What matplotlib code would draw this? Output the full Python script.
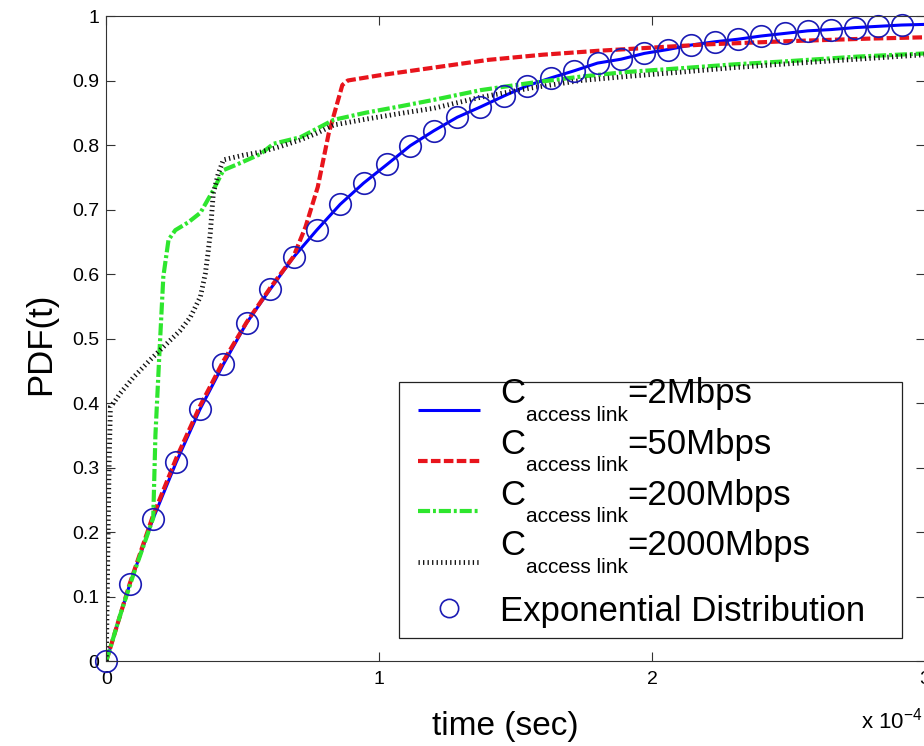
import numpy as np
import matplotlib
matplotlib.use("Agg")
import matplotlib.pyplot as plt
from matplotlib import font_manager
from matplotlib.font_manager import FontProperties
from matplotlib.legend_handler import HandlerLine2D
from matplotlib.ticker import FuncFormatter, FixedLocator


def pick_family(names):
    for n in names:
        try:
            font_manager.findfont(FontProperties(family=n), fallback_to_default=False)
            return n
        except ValueError:
            continue
    return "DejaVu Sans"


NARROW = pick_family(["Liberation Sans Narrow", "Arial Narrow", "Liberation Sans"])
REGULAR = pick_family(["Liberation Sans", "Arial", "DejaVu Sans"])

plt.rcParams["mathtext.fontset"] = "custom"
plt.rcParams["mathtext.rm"] = REGULAR
plt.rcParams["mathtext.it"] = REGULAR

# ---------------- data (time axis in units of 1e-4 s) ----------------
# C_access link = 2 Mbps
t_2mbps = [0, 0.086, 0.171, 0.257, 0.343, 0.429, 0.514, 0.6, 0.686, 0.771,
           0.857, 0.943, 1.029, 1.114, 1.2, 1.286, 1.371, 1.457, 1.543, 1.629,
           1.714, 1.8, 1.886, 1.971, 2.057, 2.143, 2.229, 2.314, 2.4, 2.486,
           2.571, 2.657, 2.743, 2.829, 2.914, 3.0]
cdf_2mbps = [0, 0.119, 0.220, 0.309, 0.390, 0.460, 0.524, 0.576, 0.626, 0.668,
             0.708, 0.741, 0.770, 0.799, 0.822, 0.843, 0.859, 0.876, 0.892, 0.904,
             0.915, 0.927, 0.933, 0.942, 0.948, 0.955, 0.960, 0.964, 0.969, 0.973,
             0.977, 0.979, 0.982, 0.984, 0.986, 0.987]

# C_access link = 50 Mbps
t_50mbps = [0, 0.086, 0.171, 0.257, 0.343, 0.429, 0.514, 0.6, 0.686, 0.73,
            0.775, 0.815, 0.865, 0.885, 1.0, 1.2, 1.4, 1.6, 1.8, 2.0,
            2.2, 2.5, 2.8, 3.0]
cdf_50mbps = [0.0, 0.12, 0.225, 0.315, 0.395, 0.465, 0.525, 0.578, 0.627, 0.673,
              0.735, 0.818, 0.893, 0.900, 0.908, 0.920, 0.932, 0.940, 0.946, 0.951,
              0.956, 0.961, 0.965, 0.967]

# C_access link = 200 Mbps
t_200mbps = [0, 0.05, 0.1, 0.15, 0.172, 0.18, 0.195, 0.209, 0.228, 0.253,
             0.3, 0.345, 0.392, 0.429, 0.48, 0.565, 0.613, 0.711, 0.77, 0.833,
             0.95, 1.078, 1.2, 1.371, 1.55, 1.738, 1.9, 2.105, 2.3, 2.5,
             2.75, 3.0]
cdf_200mbps = [0, 0.07, 0.135, 0.195, 0.222, 0.35, 0.48, 0.596, 0.653, 0.668,
               0.68, 0.695, 0.73, 0.761, 0.77, 0.786, 0.802, 0.812, 0.825, 0.839,
               0.850, 0.860, 0.870, 0.885, 0.896, 0.906, 0.913, 0.919, 0.925, 0.93,
               0.937, 0.942]

# C_access link = 2000 Mbps
t_2000mbps = [0, 0.005, 0.01, 0.015, 0.03, 0.051, 0.1, 0.161, 0.224, 0.27,
              0.308, 0.345, 0.363, 0.372, 0.381, 0.392, 0.41, 0.429, 0.5, 0.565,
              0.64, 0.711, 0.77, 0.833, 0.95, 1.078, 1.2, 1.371, 1.55, 1.738,
              1.9, 2.105, 2.3, 2.5, 2.75, 3.0]
cdf_2000mbps = [0, 0.15, 0.3, 0.394, 0.402, 0.415, 0.44, 0.467, 0.493, 0.512,
                0.533, 0.565, 0.601, 0.63, 0.663, 0.725, 0.755, 0.777, 0.784, 0.789,
                0.798, 0.808, 0.818, 0.831, 0.84, 0.849, 0.857, 0.874, 0.888, 0.90,
                0.906, 0.913, 0.92, 0.926, 0.933, 0.94]

# exponential distribution reference points
t_expo = [0, 0.086, 0.171, 0.257, 0.343, 0.429, 0.514, 0.6, 0.686, 0.771,
          0.857, 0.943, 1.029, 1.114, 1.2, 1.286, 1.371, 1.457, 1.543, 1.629,
          1.714, 1.8, 1.886, 1.971, 2.057, 2.143, 2.229, 2.314, 2.4, 2.486,
          2.571, 2.657, 2.743, 2.829, 2.914]
cdf_expo = [0, 0.119, 0.220, 0.309, 0.390, 0.460, 0.524, 0.576, 0.626, 0.668,
            0.708, 0.741, 0.770, 0.799, 0.822, 0.843, 0.859, 0.876, 0.892, 0.904,
            0.915, 0.927, 0.933, 0.942, 0.948, 0.955, 0.960, 0.964, 0.969, 0.973,
            0.977, 0.979, 0.982, 0.984, 0.986]

rate_labels = ["2Mbps", "50Mbps", "200Mbps", "2000Mbps"]
x_ticks = [0, 1, 2, 3]
y_ticks = [0, 0.1, 0.2, 0.3, 0.4, 0.5, 0.6, 0.7, 0.8, 0.9, 1.0]
TIME_UNIT = 1e-4


def sec(values):
    return np.asarray(values, float) * TIME_UNIT


# ---------------- figure ----------------
fig = plt.figure(figsize=(9.24, 7.46), dpi=100, facecolor="white")
ax = fig.add_axes([0.11504, 0.11394, 0.88604, 0.86461])

FS_LEG = 25
FS_SUB = 15
FS_LABEL = 24
FS_TICK = 14

l_2 = ax.plot(sec(t_2mbps), cdf_2mbps, color="#0000ff", lw=2.2,
              solid_capstyle="butt", zorder=2)[0]
l_50 = ax.plot(sec(t_50mbps), cdf_50mbps, color="#e8141c", lw=3.0,
               linestyle=(0, (2.3, 0.8)), zorder=2.1)[0]
l_200 = ax.plot(sec(t_200mbps), cdf_200mbps, color="#2ee62e", lw=3.0,
                linestyle=(0, (2.9, 0.7, 0.7, 0.7)), zorder=2.2)[0]
l_2000 = ax.plot(sec(t_2000mbps), cdf_2000mbps, color="#111111", lw=3.5,
                 linestyle=(0, (0.27, 0.66)), zorder=2.3)[0]
l_exp = ax.plot(sec(t_expo), cdf_expo, linestyle="none", marker="o",
                markersize=15.5, markerfacecolor="none",
                markeredgecolor="#1a1ab4", markeredgewidth=1.2,
                clip_on=False, zorder=2.4)[0]

ax.set_xlim(0, 3 * TIME_UNIT)
ax.set_ylim(0, 1)
ax.xaxis.set_major_locator(FixedLocator(sec(x_ticks)))
ax.xaxis.set_major_formatter(FuncFormatter(lambda v, p: f"{v / TIME_UNIT:g}"))
ax.yaxis.set_major_locator(FixedLocator(y_ticks))
ax.yaxis.set_major_formatter(FuncFormatter(lambda v, p: f"{v:g}"))

ax.tick_params(axis="both", which="both", direction="in", length=6.5,
               width=0.8, color="#333333", top=True, right=True,
               labelsize=FS_TICK, labelcolor="black")
ax.tick_params(axis="x", pad=7.5)
ax.tick_params(axis="y", pad=5)
for lab in ax.get_xticklabels() + ax.get_yticklabels():
    lab.set_family(REGULAR)
for sp in ax.spines.values():
    sp.set_color("#333333")
    sp.set_linewidth(0.8)

ax.set_xlabel("time (sec)", fontsize=FS_LABEL, family=NARROW)
ax.xaxis.label.set_verticalalignment("baseline")
ax.xaxis.set_label_coords(0.487, -0.1147)
ax.set_ylabel("PDF(t)", fontsize=FS_LABEL + 1, family=NARROW)
ax.yaxis.set_label_coords(-0.0602, 0.4915)

ax.text(0.997, -0.1054, r"x 10$^{-4}$", transform=ax.transAxes, ha="right",
        va="baseline", fontsize=16, family=REGULAR)


# ---------------- legend ----------------
class KeyHandler(HandlerLine2D):
    """Line key with an explicit horizontal extent and vertical shift (points)."""

    def __init__(self, x0, x1, dy=0.0, **kw):
        super().__init__(**kw)
        self.x0, self.x1, self.dy = x0, x1, dy

    def create_artists(self, legend, orig_handle, xdescent, ydescent, width,
                       height, fontsize, trans):
        artists = super().create_artists(legend, orig_handle, xdescent,
                                         ydescent, width, height, fontsize,
                                         trans)
        for a in artists:
            n = len(a.get_xdata())
            a.set_xdata(np.linspace(self.x0, self.x1, n))
            a.set_ydata(np.asarray(a.get_ydata(), float) + self.dy)
        return artists


handles = [l_2, l_50, l_200, l_2000, l_exp]
hmap = {h: KeyHandler(16.9, 61.6, -13.5) for h in handles[:4]}
hmap[l_exp] = KeyHandler(16.9, 61.6, 3.3)

leg = ax.legend(handles, ["C", "C", "C", "C", "\nExponential Distribution\n"],
                loc="upper left",
                bbox_to_anchor=(0.3575, 0.0388, 0.6145, 0.3942),
                mode="expand", borderaxespad=0, borderpad=-0.13,
                handlelength=2.55, handletextpad=0.49, labelspacing=0.51,
                prop=FontProperties(family=NARROW, size=FS_LEG),
                frameon=True, fancybox=False, edgecolor="#222222",
                framealpha=1, markerscale=0.85, handler_map=hmap)
leg.get_frame().set_linewidth(0.9)
leg.get_texts()[-1].set_linespacing(0.30)

for txt, rate in zip(leg.get_texts()[:4], rate_labels):
    sub = ax.annotate("access link", xy=(1, 0), xycoords=txt,
                      xytext=(0.5, -7.6), textcoords="offset points",
                      ha="left", va="baseline", fontsize=FS_SUB, family=NARROW,
                      zorder=6)
    ax.annotate("=" + rate, xy=(1, 0), xycoords=(sub, txt),
                xytext=(0, 0), textcoords="offset points",
                ha="left", va="bottom", fontsize=FS_LEG, family=NARROW,
                zorder=6)

fig.canvas.draw()
fig.savefig("out.png", dpi=100, facecolor="white")
